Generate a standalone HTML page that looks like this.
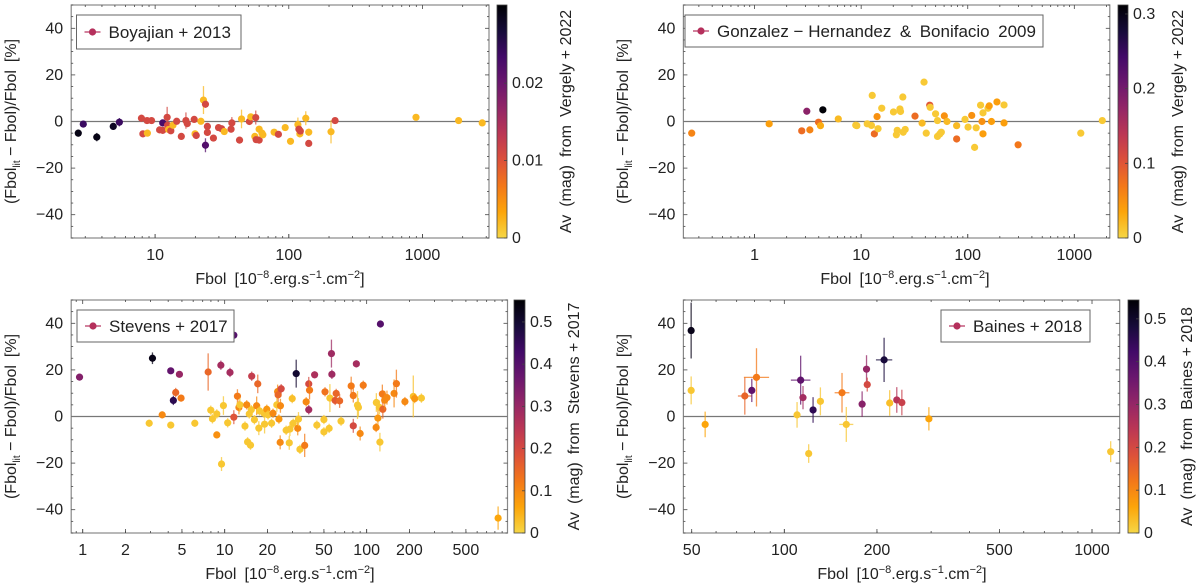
<!DOCTYPE html>
<html><head><meta charset="utf-8"><style>
html,body{margin:0;padding:0;background:#fff;}
svg{display:block;font-family:"Liberation Sans","DejaVu Sans",sans-serif;}
</style></head><body>
<svg id="fig" width="1200" height="586" viewBox="0 0 1200 586" xmlns="http://www.w3.org/2000/svg">
<defs>
<linearGradient id="cmap" x1="0" y1="1" x2="0" y2="0">
<stop offset="0" stop-color="#f6d746"/><stop offset="0.111" stop-color="#fca50a"/><stop offset="0.222" stop-color="#f37819"/><stop offset="0.333" stop-color="#dd513a"/><stop offset="0.444" stop-color="#bc3754"/><stop offset="0.556" stop-color="#932667"/><stop offset="0.667" stop-color="#6a176e"/><stop offset="0.778" stop-color="#420a68"/><stop offset="0.889" stop-color="#160b39"/><stop offset="1" stop-color="#000004"/>
</linearGradient>
</defs>
</svg>
<script>
// ---------- Panel 1: Boyajian+2013 ----------
const p1X=[2.66,2.9,3.66,4.86,5.4,7.9,8.1,8.7,8.75,9.4,10.8,11.4,11.4,12.3,12.4,12.6,13.1,13.6,14.5,15.7,17,17.4,19.6,19.9,20.3,22,23,23.8,23.8,24.6,24.6,27.3,29.8,31.4,32.9,37,37.5,42.8,44.3,50.7,52,55.7,56.6,57,60,60,63,64,77.7,83.6,94,103,117,119,121,122,134,141,141,207,222,895,1865,2800];
const p1Y=[-5,-1.1,-6.7,-2.1,-0.3,1.4,-5.3,0.4,-5,0.4,-3.6,-0.6,-3.8,1.8,-1.6,-3.4,-4,-1.6,0.1,-6.4,0.4,-0.9,0.9,-5.3,-6,0.1,9.2,7.4,-10.2,-2.1,-4.7,-7.1,-2.6,-3.1,-4.3,-3.3,-0.6,-8,1.1,0,2,-6.4,1.7,-7.8,-8,-3.3,-5,-5.7,-4.6,-5.5,-2.6,-8.5,-1.3,-3.3,-5.3,-4.1,1.4,-4.6,-9.4,-4.4,0.4,1.8,0.4,-0.6];
const p1Av=[0.029,0.024,0.029,0.028,0.024,0.011,0.011,0.011,0.002,0.011,0.011,0.023,0.011,0.011,0.011,0.002,0.011,0.002,0.011,0.011,0.011,0.011,0.011,0.002,0.011,0.002,0.002,0.011,0.022,0.011,0.011,0.011,0.011,0.011,0.002,0.011,0.011,0.011,0.002,0.011,0.002,0.002,0.011,0.011,0.011,0.002,0.002,0.002,0.002,0.011,0.002,0.002,0.002,0.011,0.002,0.011,0.002,0.002,0.011,0.002,0.011,0.002,0.002,0.002];
const p1Err=[1.5,1.5,1.8,1.5,1.8,1.5,1.2,1,1,1,1,1,1,4.5,1.5,1,1,1,1,1,3.5,1.5,1,1.5,1,1,6,1.5,3,1,1,1,1,1,1.5,1.5,2.5,1,4,1,1,1,3,1,1,1.5,1,1,1,1,1,1,3,1.5,1.5,1,3,1.5,1,5,1,1,1,1];
const p1XTicks=[10,100,1000];
const p1XLabels=["10","100","1000"];
const p1CbTicks=[0,0.01,0.02];
const p1CbLabels=["0","0.01","0.02"];
// ---------- Panel 2: Gonzalez-Hernandez & Bonifacio 2009 ----------
const p2X=[0.257,1.37,2.77,3.09,3.3,3.98,4.15,4.37,6.1,8.9,9.1,11.4,12.5,12.7,13.3,14.1,14.4,15.6,20.1,21.4,21.8,23.1,23.4,24.6,24.8,25.9,32,37.3,38.9,40.8,44,44.4,49.9,52,52,54.6,56.5,60.3,63.9,78.7,78.7,94.3,100.7,109,116,120,132,136,139,139,155,159,167,188,219,219,297,1150,1830];
const p2Y=[-5,-1,-4,4.4,-3.6,-0.3,-1.8,5,1.1,-1.6,-1.8,-1,-1.7,11.2,-5.3,2.1,-3.1,5.7,4.1,-5.7,-3.8,5.4,4.3,10.5,-4.6,-3.4,2.3,-0.7,16.9,-5,7,6.1,3.3,0.4,-6.4,-5.4,-4.6,2.4,0,-1.8,-7.5,0.9,-2.4,2.6,-11.1,-2.7,7,0,3.7,-5.3,5.7,6.7,0,8.4,7.1,-0.6,-10,-5,0.4];
const p2Av=[0.06,0.04,0.08,0.18,0.06,0.08,0.03,0.31,0.02,0.01,0.01,0.01,0.01,0.01,0.08,0.05,0.01,0.01,0.01,0.01,0.01,0.01,0.01,0.01,0.01,0.01,0.08,0.02,0.01,0.01,0.1,0.01,0.01,0.01,0.01,0.01,0.01,0.05,0.02,0.02,0.08,0.01,0.01,0.05,0.01,0.01,0.01,0.05,0.01,0.04,0.01,0.04,0.04,0.04,0.01,0.04,0.07,0.01,0.01];
const p2Err=p2X.map(()=>0.6);
const p2XTicks=[1,10,100,1000];
const p2XLabels=["1","10","100","1000"];
const p2CbTicks=[0,0.1,0.2,0.3];
const p2CbLabels=["0","0.1","0.2","0.3"];
// ---------- Panel 3: Stevens+2017 ----------
const p3X=[0.95,2.94,3.1,3.63,4.17,4.17,4.35,4.52,4.8,4.93,6.16,7.65,7.98,8.2,8.8,8.8,9.4,9.5,9.8,10.5,10.9,11.6,11.6,12.3,12.6,12.8,13.9,14.3,14.5,14.9,15.2,15.4,15.5,16.2,16.8,17.1,17.4,17.6,18.9,19.1,19.8,20.2,21.4,21.9,23.3,23.6,23.8,24.1,24.6,24.7,25,27.1,28.5,28.8,29.9,30.4,31.9,32.7,33.1,33.9,36.6,37.5,39.1,39.1,39.6,43,44.6,50,50,50.9,54.4,55.1,56.5,56.9,60,61,64.5,66,77.8,80.5,80.5,84.6,86.2,87.5,90,94.6,116.6,117,120,123,124,125,129,130,134,139,156,162,186,213,218,243,843];
const p3Y=[16.9,-2.9,25,0.7,19.6,-3.7,6.9,10.3,18.1,7.9,-2.9,19.1,2.7,-1,1.1,-7.9,22,-20.4,4.7,-2.7,18.9,34.9,-0.3,8.7,3.9,5,-4.1,5,-10.9,1.1,-12.3,2.9,17.3,-1.4,4.6,14,-5,2.4,1.4,-3.3,3.1,0.7,-2.9,1.4,5,10.7,9.3,-1.1,-11.1,4.6,11.9,-5.9,-11.3,-5.4,7.7,-2.9,18.4,-5.1,-1.1,-14.1,-12.4,6.3,14,2.9,11.3,17.9,-3.7,-1.3,-6.6,10.6,-5.1,7.9,27,18.1,6.9,9.9,6.7,-2,13.1,-4,9,22.6,4.9,3.9,-7.3,13.4,-4.7,6,-0.7,3.9,-11,39.7,9.7,3.1,7,8.1,9.9,14.1,6.4,8.6,7.7,7.9,-43.6];
const p3Av=[0.33,0.02,0.53,0.1,0.38,0.02,0.46,0.15,0.3,0.12,0.02,0.15,0.02,0.02,0.02,0.09,0.28,0.02,0.02,0.02,0.28,0.4,0.18,0.12,0.1,0.02,0.02,0.1,0.02,0.02,0.02,0.02,0.23,0.02,0.1,0.15,0.02,0.02,0.02,0.02,0.08,0.02,0.02,0.1,0.02,0.1,0.15,0.08,0.1,0.1,0.2,0.02,0.02,0.02,0.03,0.02,0.5,0.1,0.02,0.02,0.12,0.1,0.2,0.28,0.12,0.27,0.02,0.02,0.02,0.13,0.02,0.02,0.29,0.29,0.17,0.15,0.15,0.02,0.12,0.2,0.12,0.28,0.02,0.02,0.1,0.12,0.1,0.02,0.08,0.02,0.02,0.4,0.12,0.15,0.1,0.1,0.1,0.12,0.1,0.03,0.08,0.02,0.06];
const p3Err=[1,1.5,2.5,1.5,1,1,2,2,1,1.5,1.5,8,2,2,2,1.5,2,3,4,2,2,1.5,3,3,3,3,2,2,2,2,2,2,2,2,4,4,3,2,2,4,2,2,2,2,3,3,3,2,3,3,2,2,3,3,2,2,6,3,3,2,5,2,3,2,4,1.5,2,2,2,2,2,6,6,2,2,2,3,2,4,3,3,1.5,6,4,3,2,2,4,4,3,4,1,4,4,4,3,6,6,2,9,2,2,5];
const p3XTicks=[1,2,5,10,20,50,100,200,500];
const p3XLabels=["1","2","5","10","20","50","100","200","500"];
const p3CbTicks=[0,0.1,0.2,0.3,0.4,0.5];
const p3CbLabels=["0","0.1","0.2","0.3","0.4","0.5"];
// ---------- Panel 4: Baines+2018 ----------
const p4X=[49.8,49.8,55.3,74.4,78.4,81.2,110,113,115,120,124,131,154,159,179,185,186,211,220,232,241,295,1150];
const p4Y=[36.9,11.2,-3.4,8.8,11.2,16.8,0.7,15.6,8.1,-15.9,2.8,6.5,10.2,-3.4,5.3,20.3,13.7,24.3,5.8,7.1,6,-1,-15.1];
const p4Av=[0.52,0.02,0.06,0.15,0.38,0.12,0.02,0.38,0.28,0.02,0.45,0.02,0.12,0.02,0.32,0.3,0.2,0.48,0.03,0.25,0.22,0.06,0.02];
const p4Err=[12,6,5.5,8,5,12.5,5.5,10.5,5,4,5.5,6,8.5,7.5,5.5,6,3,9.5,5.5,5.5,5.5,5,4.5];
const p4XErr=[1,1,1,1.053,1,1.099,1,1.076,1,1,1,1,1.057,1.054,1,1,1,1.063,1,1,1,1,1];
const p4XTicks=[50,100,200,500,1000];
const p4XLabels=["50","100","200","500","1000"];
const p4CbTicks=[0,0.1,0.2,0.3,0.4,0.5];
const p4CbLabels=["0","0.1","0.2","0.3","0.4","0.5"];
const yTicks=[-40,-20,0,20,40];
const yLabels=["\u221240","\u221220","0","20","40"];

const NS="http://www.w3.org/2000/svg";
const svg=document.getElementById('fig');
const inf=[[0,0,4],[22,11,57],[66,10,104],[106,23,110],[147,38,103],[188,55,84],[221,81,58],[243,120,25],[252,165,10],[246,215,70]];
function cmap(v,max){let f=Math.max(0,Math.min(1,v/max));let t=(1-f)*9;let i=Math.min(8,Math.floor(t));let r=t-i;let a=inf[i],b=inf[i+1];
return 'rgb('+a.map((c,k)=>Math.round(c+(b[k]-c)*r)).join(',')+')';}
function el(tag,attrs,parent){const e=document.createElementNS(NS,tag);for(const k in attrs)e.setAttribute(k,attrs[k]);(parent||svg).appendChild(e);return e;}

function panel(c,xs,ys,avs,errs,xerrs,xt,xl,cbt,cbl){
  const g=el('g',{});
  
  
  const sx=v=>c.L+(Math.log10(v)-c.lx0)/(c.lx1-c.lx0)*(c.R-c.L);
  const sy=v=>c.B-(v+50)/100*(c.B-c.T);
  el('rect',{x:c.L,y:c.T,width:c.R-c.L,height:c.B-c.T,fill:'#fff',stroke:'#888','stroke-width':1.2},g);
  for(let d=Math.floor(c.lx0);d<=Math.ceil(c.lx1);d++){for(let m=1;m<10;m++){const v=m*Math.pow(10,d);const lv=Math.log10(v);if(lv<c.lx0||lv>c.lx1)continue;const x=sx(v);const len=(m===1)?4:2;
    el('line',{x1:x,x2:x,y1:c.B,y2:c.B-len,stroke:'#444','stroke-width':0.8},g);el('line',{x1:x,x2:x,y1:c.T,y2:c.T+len,stroke:'#444','stroke-width':0.8},g);}}
  xt.forEach((v,i)=>{const x=sx(v);el('line',{x1:x,x2:x,y1:c.B,y2:c.B-4,stroke:'#444','stroke-width':0.8},g);
    const t=el('text',{x:x,y:c.B+22,'font-size':16,'text-anchor':'middle',fill:'#222'},g);t.textContent=xl[i];
    
    });
  for(let v=-50;v<=50;v+=5){const y=sy(v);const len=(v%20===0)?4:2;el('line',{x1:c.L,x2:c.L+len,y1:y,y2:y,stroke:'#444','stroke-width':0.8},g);el('line',{x1:c.R,x2:c.R-len,y1:y,y2:y,stroke:'#444','stroke-width':0.8},g);}
  yTicks.forEach((v,i)=>{const t=el('text',{x:c.L-8,y:sy(v)+5,'font-size':16,'text-anchor':'end',fill:'#222'},g);t.textContent=yLabels[i];
    
    });
  el('line',{x1:c.L,x2:c.R,y1:sy(0),y2:sy(0),stroke:'#777','stroke-width':1.3},g);
  xs.forEach((xv,i)=>{const col=cmap(avs[i],c.avMax);const x=sx(xv),y=sy(ys[i]);
    const e=el('line',{x1:x,x2:x,y1:sy(ys[i]-errs[i]),y2:sy(ys[i]+errs[i]),stroke:col,'stroke-width':1.3,opacity:0.75},g);
    
    
    if(xerrs&&xerrs[i]>1){el('line',{x1:sx(xv/xerrs[i]),x2:sx(xv*xerrs[i]),y1:y,y2:y,stroke:col,'stroke-width':1.3,opacity:0.75},g);}
    const p=el('circle',{cx:x,cy:y,r:3.6,fill:col},g);
    
    });
  const lg=el('g',{},g);
  
  
  el('rect',{x:c.lgX,y:c.lgY,width:c.lgW,height:c.lgH,fill:'#fff',stroke:'#666','stroke-width':1},lg);
  const my=c.lgY+c.lgH/2;
  el('line',{x1:c.lgX+8,x2:c.lgX+24,y1:my,y2:my,stroke:'#b5305c','stroke-width':1.2},lg);
  el('circle',{cx:c.lgX+16,cy:my,r:3.6,fill:'#b5305c'},lg);
  const lt=el('text',{x:c.lgX+32,y:my+6,'font-size':17,fill:'#222'},lg);lt.textContent=c.legend;
  const xtl=el('text',{x:c.xTitleX,y:c.B+46,'font-size':16,'text-anchor':'middle',fill:'#222'},g);
  xtl.innerHTML='Fbol\u2002[10<tspan dy="-6" font-size="11">\u22128</tspan><tspan dy="6">.erg.s</tspan><tspan dy="-6" font-size="11">\u22121</tspan><tspan dy="6">.cm</tspan><tspan dy="-6" font-size="11">\u22122</tspan><tspan dy="6">]</tspan>';
  
  
  const yc=(c.T+c.B)/2;
  const ytl=el('text',{x:0,y:0,'font-size':16,'text-anchor':'middle',fill:'#222',transform:'translate('+(c.yTitleX)+','+yc+') rotate(-90)'},g);
  ytl.innerHTML='(Fbol<tspan dy="4" font-size="10">lit</tspan><tspan dy="-4"> \u2212 Fbol)/Fbol\u2002[%]</tspan>';
  
  
  const cb=el('rect',{x:c.cbL,y:c.T,width:c.cbR-c.cbL,height:c.B-c.T,fill:'url(#cmap)',stroke:'#444','stroke-width':0.8},g);
  
  
  cbt.forEach((v,i)=>{const y=c.B-v/c.avMax*(c.B-c.T);el('line',{x1:c.cbR,x2:c.cbR-3,y1:y,y2:y,stroke:'#444','stroke-width':0.8},g);
    const t=el('text',{x:c.cbR+5,y:y+5,'font-size':16,fill:'#222'},g);t.textContent=cbl[i];
    
    });
  const cl=el('text',{x:0,y:0,'font-size':16,'text-anchor':'middle',fill:'#222',transform:'translate('+(c.cbLabelX+5)+','+yc+') rotate(-90)'},g);
  cl.textContent=c.cbLabel;
  
  
}
panel({name:'panel-boyajian',L:71.2,R:489,T:5,B:238,lx0:0.372,lx1:3.498,avMax:0.0301,cbL:497,cbR:507,cbLabelX:566,yTitleX:16,xTitleX:280,
  lgX:76.5,lgY:15,lgW:164.5,lgH:34,legend:'Boyajian + 2013',cbLabel:'Av\u2002(mag)\u2002from\u2002Vergely + 2022'},p1X,p1Y,p1Av,p1Err,null,p1XTicks,p1XLabels,p1CbTicks,p1CbLabels);
panel({name:'panel-gonzalez',L:683.4,R:1109.8,T:5,B:238,lx0:-0.668,lx1:3.333,avMax:0.312,cbL:1118,cbR:1128,cbLabelX:1178,yTitleX:628,xTitleX:905,
  lgX:685,lgY:15,lgW:358,lgH:32,legend:'Gonzalez \u2212 Hernandez\u2002&\u2002Bonifacio\u20022009',cbLabel:'Av\u2002(mag)\u2002from\u2002Vergely + 2022'},p2X,p2Y,p2Av,p2Err,null,p2XTicks,p2XLabels,p2CbTicks,p2CbLabels);
panel({name:'panel-stevens',L:71.2,R:507.5,T:300,B:533,lx0:-0.081,lx1:2.992,avMax:0.552,cbL:514,cbR:525,cbLabelX:574,yTitleX:16,xTitleX:290,
  lgX:77,lgY:310,lgW:157,lgH:32,legend:'Stevens + 2017',cbLabel:'Av\u2002(mag)\u2002from\u2002Stevens + 2017'},p3X,p3Y,p3Av,p3Err,null,p3XTicks,p3XLabels,p3CbTicks,p3CbLabels);
panel({name:'panel-baines',L:683.4,R:1119.7,T:300,B:533,lx0:1.672,lx1:3.09,avMax:0.544,cbL:1128,cbR:1139,cbLabelX:1187,yTitleX:628,xTitleX:902,
  lgX:941,lgY:310,lgW:149,lgH:32,legend:'Baines + 2018',cbLabel:'Av\u2002(mag)\u2002from\u2002Baines + 2018'},p4X,p4Y,p4Av,p4Err,p4XErr,p4XTicks,p4XLabels,p4CbTicks,p4CbLabels);
</script>
</body></html>
